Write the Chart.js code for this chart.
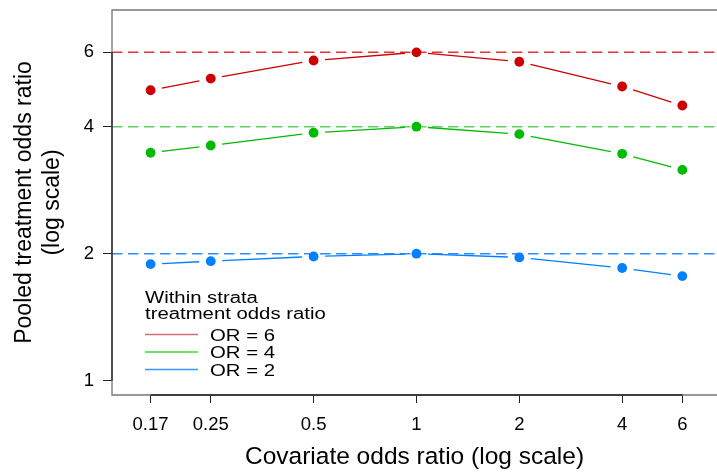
<!DOCTYPE html>
<html>
<head>
<meta charset="utf-8">
<script src="https://cdn.jsdelivr.net/npm/chart.js@4.4.1/dist/chart.umd.min.js"></script>
<style>
  html, body { margin: 0; padding: 0; background: #fff; overflow: hidden; }
  #wrap { width: 717px; height: 473px; }
</style>
</head>
<body>
<div id="wrap"><canvas id="orchart" width="717" height="473"></canvas></div>
<script>
// covariate odds ratio on the x axis (log scale)
const covariateOR = [1/6, 0.25, 0.5, 1, 2, 4, 6];
const xTickLabels = ['0.17', '0.25', '0.5', '1', '2', '4', '6'];
const yTicks = [1, 2, 4, 6];

// pooled treatment odds ratio for each within strata OR
const pooledOR6 = [4.88, 5.20, 5.74, 6.00, 5.70, 4.98, 4.49];
const pooledOR4 = [3.47, 3.61, 3.87, 4.00, 3.84, 3.45, 3.16];
const pooledOR2 = [1.89, 1.92, 1.97, 2.00, 1.96, 1.85, 1.77];

const seriesNames = ['OR = 6', 'OR = 4', 'OR = 2'];
const refLevels = [6, 4, 2];

const seriesColors = ['#cc0000', '#00bb00', '#0080ff'];
const refColors = ['rgba(222,30,30,0.9)', 'rgba(70,200,70,0.85)', 'rgba(20,130,255,0.9)'];
const legendColors = ['#d07070', '#33dd33', '#3399ff'];

const xMin = 0.1285, xMax = 7.58;
const yMin = 0.9253, yMax = 7.56;

const FONT = '"Liberation Sans", Arial, Helvetica, sans-serif';
Chart.defaults.font.family = FONT;
Chart.defaults.color = '#000';

const pooled = [pooledOR6, pooledOR4, pooledOR2];
const datasets = [];
pooled.forEach((vals, i) => {
  datasets.push({
    label: seriesNames[i],
    data: vals.map((v, j) => ({ x: covariateOR[j], y: v })),
    showLine: false,
    pointRadius: 4.9,
    pointHoverRadius: 4.9,
    pointBackgroundColor: seriesColors[i],
    pointBorderWidth: 0,
    borderColor: seriesColors[i],
    order: 1
  });
});
refLevels.forEach((lvl, i) => {
  datasets.push({
    label: 'ref ' + lvl,
    data: [{ x: xMin, y: lvl }, { x: xMax, y: lvl }],
    showLine: true,
    borderColor: refColors[i],
    borderWidth: 1.5,
    borderDash: [10.5, 5.5],
    pointRadius: 0,
    order: 2
  });
});

// type "b" style lines: segments stop short of each point
const gappedLines = {
  id: 'gappedLines',
  afterDatasetsDraw(chart) {
    const ctx = chart.ctx;
    const gap = 11.5;
    ctx.save();
    ctx.lineWidth = 1.3;
    for (let i = 0; i < pooled.length; i++) {
      const pts = chart.getDatasetMeta(i).data;
      ctx.strokeStyle = seriesColors[i];
      for (let j = 1; j < pts.length; j++) {
        const a = pts[j - 1], b = pts[j];
        const dx = b.x - a.x, dy = b.y - a.y;
        const len = Math.hypot(dx, dy);
        if (len <= 2 * gap) continue;
        const ux = dx / len, uy = dy / len;
        ctx.beginPath();
        ctx.moveTo(a.x + ux * gap, a.y + uy * gap);
        ctx.lineTo(b.x - ux * gap, b.y - uy * gap);
        ctx.stroke();
      }
    }
    ctx.restore();
  }
};

// grey box plus black axis lines running from first to last tick
const frame = {
  id: 'frame',
  afterDraw(chart) {
    const ctx = chart.ctx;
    const { left, right, top, bottom } = chart.chartArea;
    const xs = chart.scales.x, ys = chart.scales.y;
    ctx.save();
    ctx.strokeStyle = '#777';
    ctx.lineWidth = 1.3;
    ctx.beginPath();
    ctx.moveTo(right + 5, top);
    ctx.lineTo(left, top);
    ctx.lineTo(left, bottom);
    ctx.lineTo(right + 5, bottom);
    ctx.stroke();
    ctx.strokeStyle = '#222';
    ctx.beginPath();
    ctx.moveTo(xs.getPixelForValue(covariateOR[0]), bottom);
    ctx.lineTo(xs.getPixelForValue(covariateOR[covariateOR.length - 1]), bottom);
    ctx.moveTo(left, ys.getPixelForValue(yTicks[0]));
    ctx.lineTo(left, ys.getPixelForValue(yTicks[yTicks.length - 1]));
    ctx.stroke();
    ctx.restore();
  }
};

// legend in the lower left of the plot (text drawn a little wide)
const innerLegend = {
  id: 'innerLegend',
  afterDraw(chart) {
    const ctx = chart.ctx;
    const x0 = chart.chartArea.left + 33;
    const stretch = 1.27;
    const text = (s, x, y) => {
      ctx.save();
      ctx.translate(x, y);
      ctx.scale(stretch, 1);
      ctx.fillText(s, 0, 0);
      ctx.restore();
    };
    ctx.save();
    ctx.fillStyle = '#000';
    ctx.font = '16px ' + FONT;
    ctx.textBaseline = 'alphabetic';
    text('Within strata', x0, 302.5);
    text('treatment odds ratio', x0, 319);
    seriesNames.forEach((name, i) => {
      const y = 334.5 + i * 17.5;
      ctx.strokeStyle = legendColors[i];
      ctx.lineWidth = 1.4;
      ctx.beginPath();
      ctx.moveTo(x0, y);
      ctx.lineTo(x0 + 53, y);
      ctx.stroke();
      text(name, x0 + 65, y + 6);
    });
    ctx.restore();
  }
};

new Chart(document.getElementById('orchart'), {
  type: 'scatter',
  data: { datasets: datasets },
  options: {
    responsive: false,
    animation: false,
    devicePixelRatio: 1,
    layout: { autoPadding: false, padding: { top: 10, left: 0, right: 0, bottom: 0 } },
    plugins: { legend: { display: false }, tooltip: { enabled: false } },
    scales: {
      x: {
        type: 'logarithmic',
        min: xMin,
        max: xMax,
        bounds: 'data',
        afterBuildTicks: s => { s.ticks = covariateOR.map(v => ({ value: v })); },
        afterFit: s => { s.height = 78; s.paddingLeft = 0; s.paddingRight = 0; },
        ticks: {
          autoSkip: false, maxRotation: 0, minRotation: 0, padding: 10.5,
          font: { size: 18.5 },
          callback: (v, i) => xTickLabels[i]
        },
        grid: { drawOnChartArea: false, drawTicks: true, tickLength: 8, color: '#222', lineWidth: 1 },
        border: { display: false },
        title: {
          display: true,
          text: 'Covariate odds ratio (log scale)',
          font: { size: 24.5, lineHeight: 1.2 },
          padding: { top: 0, bottom: 1 }
        }
      },
      y: {
        type: 'logarithmic',
        min: yMin,
        max: yMax,
        bounds: 'data',
        afterBuildTicks: s => { s.ticks = yTicks.map(v => ({ value: v })); },
        afterFit: s => { s.width = 112; s.paddingTop = 0; s.paddingBottom = 0; },
        ticks: {
          autoSkip: false, padding: 9,
          font: { size: 18.5 },
          callback: v => String(v)
        },
        grid: { drawOnChartArea: false, drawTicks: true, tickLength: 9, color: '#222', lineWidth: 1 },
        border: { display: false },
        title: {
          display: true,
          text: ['Pooled treatment odds ratio', '(log scale)'],
          font: { size: 23, lineHeight: 1.2 },
          padding: { top: 11, bottom: 0 }
        }
      }
    }
  },
  plugins: [gappedLines, frame, innerLegend]
});
</script>
</body>
</html>
